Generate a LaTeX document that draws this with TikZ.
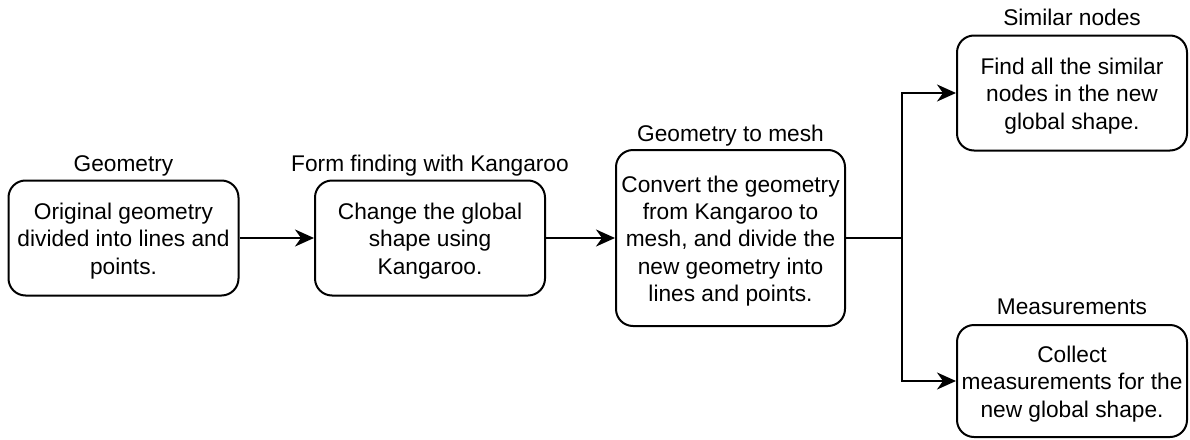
\documentclass[tikz,border=0pt]{standalone}
\usepackage{fontspec}
\setmainfont{Liberation Sans}
\usetikzlibrary{arrows.meta}
\newcommand{\tgap}{\rule{0pt}{22.5pt}}
\begin{document}
\begin{tikzpicture}[x=1pt,y=-1pt,
  every node/.style={font=\fontsize{22.7}{27.2}\selectfont},
  >={Stealth[length=19pt,width=17pt,inset=6pt]},
  box/.style={draw, line width=2pt, rounded corners=17pt, align=center, inner sep=0pt, minimum width=230pt},
  lbl/.style={anchor=base},
  conn/.style={line width=2pt, ->},
  link/.style={line width=2pt}]
\useasboundingbox (0,0) rectangle (1190,439);
\node[box, minimum height=115pt] (b1) at (123.5,238) {\tgap Original geometry\\divided into lines and\\points.};
\node[box, minimum height=115pt] (b2) at (430,238) {\tgap Change the global\\shape using\\Kangaroo.};
\node[box, minimum height=176pt, minimum width=229pt] (b3) at (730.5,238) {\tgap Convert the geometry\\from Kangaroo to\\mesh, and divide the\\new geometry into\\lines and points.};
\node[box, minimum height=115pt] (b4) at (1072,93) {\tgap Find all the similar\\nodes in the new\\global shape.};
\node[box, minimum height=112pt] (b5) at (1072,381) {\tgap Collect\\measurements for the\\new global shape.};
\node[lbl] (l1) at ([yshift=8pt]b1.north) {Geometry};
\node[lbl] (l2) at ([yshift=8pt]b2.north) {Form finding with Kangaroo};
\node[lbl] (l3) at ([yshift=8pt]b3.north) {Geometry to mesh};
\node[lbl] (l4) at ([yshift=9pt]b4.north) {Similar nodes};
\node[lbl] (l5) at ([yshift=10pt]b5.north) {Measurements};
\coordinate (j) at (902,238);
\draw[conn] (b1) -- (b2);
\draw[conn] (b2) -- (b3);
\draw[link] (b3.east) -- (j);
\draw[conn] (j) |- (b4.west);
\draw[conn] (j) |- (b5.west);
\end{tikzpicture}
\end{document}
